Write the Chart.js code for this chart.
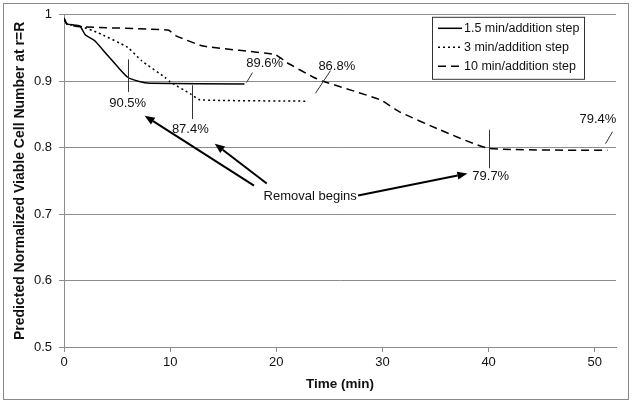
<!DOCTYPE html>
<html>
<head>
<meta charset="utf-8">
<script src="https://cdn.jsdelivr.net/npm/chart.js@4.4.1/dist/chart.umd.min.js"></script>
<style>
html,body{margin:0;padding:0;background:#fff;}
#wrap{width:632px;height:403px;}
</style>
</head>
<body>
<div id="wrap"><canvas id="c" width="632" height="403"></canvas></div>
<script>
// values: time (min) -> predicted normalized viable cell number
const t15 = [0, 0.1, 0.3, 1.5, 2, 2.9, 4.1, 5.1, 6, 7, 8.1, 17];
const v15 = [0.995, 0.99, 0.986, 0.983, 0.970, 0.961, 0.939, 0.921, 0.906, 0.900, 0.897, 0.896];

const t3 = [0, 0.3, 1.5, 3.2, 6, 7.3, 9.5, 10, 11.9, 12.8, 23];
const v3 = [0.995, 0.986, 0.983, 0.973, 0.951, 0.931, 0.906, 0.899, 0.881, 0.872, 0.870];

const t10 = [0, 0.3, 1.5, 9.8, 10.6, 13.1, 19.9, 21, 23.5, 24.4, 29.8, 31.6, 35.4, 40, 51.2];
const v10 = [0.995, 0.986, 0.982, 0.977, 0.968, 0.953, 0.940, 0.928, 0.906, 0.900, 0.872, 0.854, 0.827, 0.799, 0.796];

const xTicks = [0, 10, 20, 30, 40, 50];
const names = ['1.5 min/addition step', '3 min/addition step', '10 min/addition step'];
const dashes = [[], [2, 3], [8, 5]];

// callouts in data units: [t0, v0, t1, v1]
const leaders = [
  [6.03, 0.933, 6.03, 0.884],
  [12.05, 0.894, 12.05, 0.843],
  [40, 0.827, 40, 0.769],
  [17.15, 0.898, 17.7, 0.913],
  [23.6, 0.882, 25.1, 0.916],
  [50.95, 0.806, 51.6, 0.824]
];
const pctLabels = [
  ['90.5%', 6.0, 0.867],
  ['87.4%', 11.9, 0.827],
  ['79.7%', 40.2, 0.757],
  ['89.6%', 18.9, 0.927],
  ['86.8%', 25.7, 0.922],
  ['79.4%', 50.3, 0.842]
];
const arrows = [
  [17.9, 0.743, 7.6, 0.848],
  [19.1, 0.746, 14.2, 0.806],
  [27.7, 0.728, 38.0, 0.761]
];
const removalText = ['Removal begins', 18.8, 0.727];

const pts = (ts, vs) => ts.map((t, i) => ({x: t, y: vs[i]}));
const FONT = '"Liberation Sans", Arial, sans-serif';
const GRID = '#8c8c8c';

const frame = {
  id: 'frame',
  beforeDraw(chart) {
    const ctx = chart.ctx;
    ctx.save();
    ctx.fillStyle = '#fff';
    ctx.fillRect(0, 0, chart.width, chart.height);
    ctx.strokeStyle = '#8a8a8a';
    ctx.lineWidth = 1;
    ctx.strokeRect(3.5, 3.5, chart.width - 7, chart.height - 7);
    ctx.restore();
  }
};

const notes = {
  id: 'notes',
  afterDatasetsDraw(chart) {
    const {ctx, scales: {x, y}, chartArea: a} = chart;
    const X = v => x.getPixelForValue(v), Y = v => y.getPixelForValue(v);
    ctx.save();
    ctx.strokeStyle = '#333';
    ctx.lineWidth = 1;
    leaders.forEach(l => {
      ctx.beginPath();
      ctx.moveTo(Math.round(X(l[0])) + 0.5, Y(l[1]));
      ctx.lineTo(Math.round(X(l[2])) + 0.5, Y(l[3]));
      ctx.stroke();
    });
    ctx.fillStyle = '#111';
    ctx.font = '13px ' + FONT;
    ctx.textAlign = 'center';
    ctx.textBaseline = 'middle';
    pctLabels.forEach(p => ctx.fillText(p[0], X(p[1]), Y(p[2])));
    ctx.textAlign = 'left';
    ctx.fillText(removalText[0], X(removalText[1]), Y(removalText[2]));

    // arrows
    ctx.strokeStyle = '#000';
    ctx.fillStyle = '#000';
    ctx.lineWidth = 2;
    arrows.forEach(r => {
      const x0 = X(r[0]), y0 = Y(r[1]), x1 = X(r[2]), y1 = Y(r[3]);
      const ang = Math.atan2(y1 - y0, x1 - x0);
      const hl = 10, hw = 4;
      const bx = x1 - hl * Math.cos(ang), by = y1 - hl * Math.sin(ang);
      ctx.beginPath();
      ctx.moveTo(x0, y0);
      ctx.lineTo(bx, by);
      ctx.stroke();
      ctx.beginPath();
      ctx.moveTo(x1, y1);
      ctx.lineTo(bx + hw * Math.sin(ang), by - hw * Math.cos(ang));
      ctx.lineTo(bx - hw * Math.sin(ang), by + hw * Math.cos(ang));
      ctx.closePath();
      ctx.fill();
    });

    // legend box
    const lx = a.right - 184, ly = a.top + 2, lw = 152, lh = 62;
    ctx.fillStyle = '#fff';
    ctx.fillRect(lx, ly, lw, lh);
    ctx.strokeStyle = '#333';
    ctx.lineWidth = 1;
    ctx.strokeRect(lx + 0.5, ly + 0.5, lw, lh);
    ctx.font = '12.5px ' + FONT;
    ctx.textAlign = 'left';
    ctx.fillStyle = '#111';
    names.forEach((n, i) => {
      const yy = ly + 11.5 + i * 19;
      ctx.setLineDash(dashes[i]);
      ctx.lineWidth = 1.5;
      ctx.strokeStyle = '#000';
      ctx.beginPath();
      ctx.moveTo(lx + 6, yy);
      ctx.lineTo(lx + 30, yy);
      ctx.stroke();
      ctx.setLineDash([]);
      ctx.fillText(n, lx + 32, yy);
    });
    ctx.restore();
  }
};

const mk = (label, data, dash) => ({
  label, data, borderColor: '#000', borderWidth: 1.5, borderDash: dash,
  pointRadius: 0, fill: false, tension: 0.15, showLine: true
});

new Chart(document.getElementById('c'), {
  type: 'scatter',
  data: {
    datasets: [
      mk(names[0], pts(t15, v15), dashes[0]),
      mk(names[1], pts(t3, v3), dashes[1]),
      mk(names[2], pts(t10, v10), dashes[2])
    ]
  },
  options: {
    responsive: false,
    animation: false,
    devicePixelRatio: 1,
    layout: {padding: {left: 0, top: 12, right: 16, bottom: 0}},
    plugins: {legend: {display: false}, tooltip: {enabled: false}},
    scales: {
      x: {
        type: 'linear', min: 0, max: 52,
        afterFit: s => { s.height = 56; },
        afterBuildTicks: s => { s.ticks = xTicks.map(v => ({value: v})); },
        ticks: {color: '#111', font: {family: FONT, size: 13}, padding: 3, maxRotation: 0, autoSkip: false},
        grid: {drawOnChartArea: false, color: GRID, tickLength: 5},
        border: {color: GRID},
        title: {display: true, text: 'Time (min)', color: '#111',
          font: {family: FONT, size: 13.5, weight: 'bold'}, padding: {top: 0, bottom: 11}}
      },
      y: {
        min: 0.5, max: 1,
        afterFit: s => { s.width = 64; },
        ticks: {stepSize: 0.1, color: '#111', font: {family: FONT, size: 13}, padding: 7,
          callback: v => String(+v.toFixed(1))},
        grid: {color: GRID, tickLength: 5},
        border: {color: GRID},
        title: {display: true, text: 'Predicted Normalized Viable Cell Number at r=R', color: '#111',
          font: {family: FONT, size: 14, weight: 'bold'}, padding: {top: 12, bottom: 0}}
      }
    }
  },
  plugins: [frame, notes]
});
</script>
</body>
</html>
